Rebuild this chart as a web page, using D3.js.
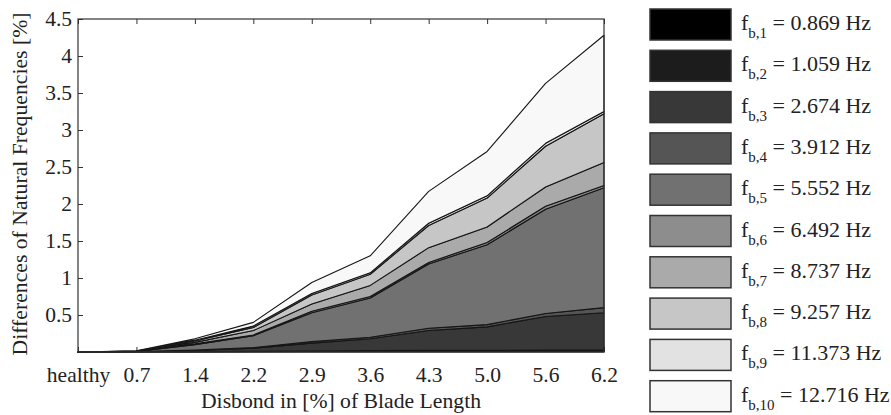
<!DOCTYPE html>
<html>
<head>
<meta charset="utf-8">
<script src="https://cdn.jsdelivr.net/npm/d3@7"></script>
<style>
  body { margin: 0; background: #fff; }
  text { font-family: "Liberation Serif", "Times New Roman", serif; fill: #222; }
</style>
</head>
<body>
<svg width="891" height="415"></svg>
<script>
// disbond lengths (x categories)
var categories = ["healthy", "0.7", "1.4", "2.2", "2.9", "3.6", "4.3", "5.0", "5.6", "6.2"];

// differences of natural frequencies [%], one array per blade mode (stacked)
var f1  = [0, 0,     0.002, 0.004, 0.006, 0.008, 0.010, 0.010, 0.012, 0.012];
var f2  = [0, 0,     0.003, 0.005, 0.008, 0.010, 0.012, 0.012, 0.015, 0.015];
var f3  = [0, 0.005, 0.015, 0.041, 0.106, 0.162, 0.268, 0.318, 0.453, 0.503];
var f4  = [0, 0.001, 0.005, 0.010, 0.020, 0.020, 0.030, 0.030, 0.040, 0.070];
var f5  = [0, 0.002, 0.075, 0.160, 0.390, 0.530, 0.870, 1.080, 1.410, 1.620];
var f6  = [0, 0.001, 0.010, 0.010, 0.020, 0.020, 0.020, 0.030, 0.040, 0.030];
var f7  = [0, 0.001, 0.020, 0.060, 0.100, 0.150, 0.200, 0.210, 0.260, 0.310];
var f8  = [0, 0.002, 0.020, 0.040, 0.120, 0.150, 0.300, 0.390, 0.550, 0.660];
var f9  = [0, 0.001, 0.010, 0.020, 0.020, 0.020, 0.030, 0.030, 0.040, 0.030];
var f10 = [0, 0.002, 0.020, 0.050, 0.150, 0.230, 0.430, 0.600, 0.810, 1.030];

var freqs = ["0.869", "1.059", "2.674", "3.912", "5.552", "6.492", "8.737", "9.257", "11.373", "12.716"];
var yTicks = [0.5, 1, 1.5, 2, 2.5, 3, 3.5, 4, 4.5];

var series = [f1, f2, f3, f4, f5, f6, f7, f8, f9, f10];
var keys = series.map(function(s, i) { return "f" + (i + 1); });
var colors = ["#000000", "#1c1c1c", "#383838", "#555555", "#717171",
              "#8d8d8d", "#aaaaaa", "#c6c6c6", "#e2e2e2", "#f8f8f8"];

var rows = categories.map(function(c, i) {
  var r = { cat: c };
  keys.forEach(function(k, j) { r[k] = series[j][i]; });
  return r;
});

var svg = d3.select("svg");
var pLeft = 78, pRight = 604, pTop = 19, pBottom = 352;

var x = d3.scalePoint().domain(categories).range([pLeft, pRight]);
var y = d3.scaleLinear().domain([0, 4.5]).range([pBottom, pTop]);

// axes go underneath the areas (bottom ticks get covered)
svg.append("g")
    .attr("transform", "translate(0," + pBottom + ")")
    .call(d3.axisBottom(x).tickSizeInner(-5).tickSizeOuter(0).tickPadding(15))
    .call(function(g) { g.select(".domain").remove(); })
    .call(function(g) { g.selectAll("line").attr("stroke", "#333"); })
    .selectAll("text").attr("font-size", 21.5).attr("fill", "#222")
    .style("font-family", "Liberation Serif");

svg.append("g")
    .attr("transform", "translate(0," + pTop + ")")
    .call(d3.axisTop(x).tickSizeInner(-5).tickSizeOuter(0).tickFormat(""))
    .call(function(g) { g.select(".domain").remove(); })
    .call(function(g) { g.selectAll("line").attr("stroke", "#333"); });

svg.append("g")
    .attr("transform", "translate(" + pLeft + ",0)")
    .call(d3.axisLeft(y).tickValues(yTicks).tickFormat(d3.format("~g"))
      .tickSizeInner(-5).tickSizeOuter(0).tickPadding(6))
    .call(function(g) { g.select(".domain").remove(); })
    .call(function(g) { g.selectAll("line").attr("stroke", "#333"); })
    .selectAll("text").attr("font-size", 21.5).attr("fill", "#222")
    .style("font-family", "Liberation Serif");

// stacked areas
var stack = d3.stack().keys(keys);
var layers = stack(rows);

var area = d3.area()
    .x(function(d) { return x(d.data.cat); })
    .y0(function(d) { return y(d[0]); })
    .y1(function(d) { return y(d[1]); });

svg.append("g")
  .selectAll("path")
  .data(layers)
  .enter().append("path")
    .attr("d", area)
    .attr("fill", function(d, i) { return colors[i]; })
    .attr("stroke", "#151515")
    .attr("stroke-width", 1.1)
    .attr("stroke-linejoin", "round");

// frame
svg.append("rect")
    .attr("x", pLeft).attr("y", pTop)
    .attr("width", pRight - pLeft).attr("height", pBottom - pTop)
    .attr("fill", "none").attr("stroke", "#333").attr("stroke-width", 1.2);

// axis titles
svg.append("text")
    .attr("x", (pLeft + pRight) / 2).attr("y", 408)
    .attr("text-anchor", "middle").attr("font-size", 21.7)
    .text("Disbond in [%] of Blade Length");

svg.append("text")
    .attr("transform", "translate(27," + 184 + ") rotate(-90)")
    .attr("text-anchor", "middle").attr("font-size", 21.7)
    .text("Differences of Natural Frequencies [%]");

// legend
var leg = svg.append("g").selectAll("g")
    .data(keys)
    .enter().append("g")
    .attr("transform", function(d, i) { return "translate(650," + (9 + i * 41.3) + ")"; });

leg.append("rect")
    .attr("width", 81).attr("height", 31)
    .attr("fill", function(d, i) { return colors[i]; })
    .attr("stroke", "#333").attr("stroke-width", 1.5);

var lt = leg.append("text")
    .attr("x", 91).attr("y", 21)
    .attr("font-size", 22);
lt.append("tspan").text("f");
lt.append("tspan").attr("font-size", 15).attr("dy", 8).text(function(d, i) { return "b," + (i + 1); });
lt.append("tspan").attr("dy", -8).text(function(d, i) { return " = " + freqs[i] + " Hz"; });
</script>
</body>
</html>
